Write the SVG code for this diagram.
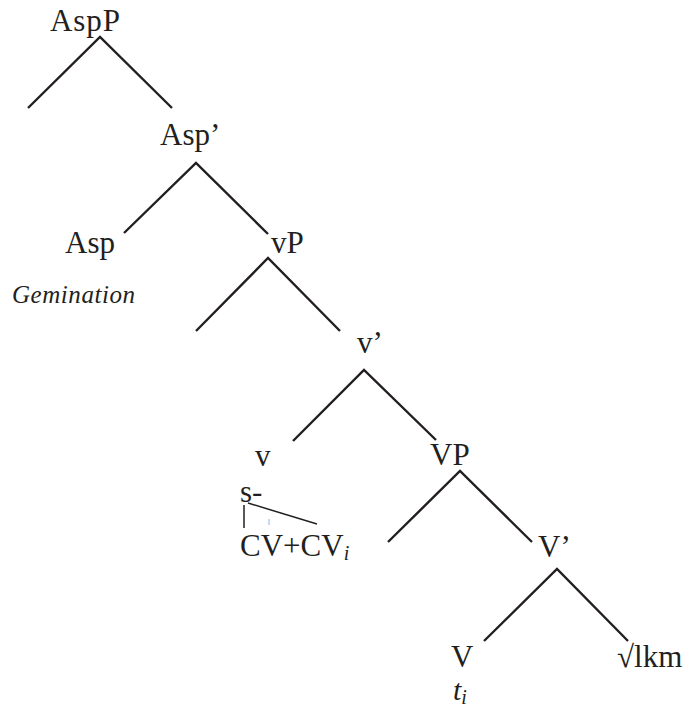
<svg xmlns="http://www.w3.org/2000/svg" width="684" height="708" viewBox="0 0 684 708">
<style>
text{font-family:'Liberation Serif',Tinos,'Times New Roman',serif;fill:#231f20}
.t{font-size:31px}
.it{font-style:italic}
.e{stroke:#231f20;stroke-width:2.4;fill:none}
.e2{stroke:#231f20;stroke-width:1.5;fill:none}
</style>
<rect width="684" height="708" fill="#fff"/>
<g id="connectors">
<polyline class="e" points="28,108 100,37 172,108"/>
<polyline class="e" points="124,233 196,163 268,234"/>
<polyline class="e" points="196,331 268,258 340,331"/>
<polyline class="e" points="293,441 364,370 436,440"/>
<polyline class="e" points="388,542 460,471 532,542"/>
<polyline class="e" points="484,641 557,569 628,641"/>
<line class="e2" x1="244" y1="505" x2="244" y2="528"/>
<line class="e2" x1="248" y1="503" x2="317" y2="524"/>
<line x1="269" y1="519" x2="269" y2="525" stroke="#8fb3e0" stroke-width="1"/>
</g>
<g id="AspP"><text class="t" x="50" y="31" textLength="70">AspP</text></g>
<g id="Asp-bar"><text class="t" x="160" y="145">Asp’</text></g>
<g id="Asp"><text class="t" x="65" y="253">Asp</text></g>
<g id="Gemination"><text class="it" x="12" y="303" font-size="25" textLength="123">Gemination</text></g>
<g id="vP"><text class="t" x="271" y="253">vP</text></g>
<g id="v-bar"><text class="t" x="357" y="353">v’</text></g>
<g id="v"><text class="t" x="255" y="466">v</text></g>
<g id="s"><text class="t" x="240" y="502">s-</text></g>
<g id="CV"><text class="t" x="240" y="556">CV+CV<tspan class="it" font-size="20" dy="4">i</tspan></text></g>
<g id="VP"><text class="t" x="430" y="465">VP</text></g>
<g id="V-bar"><text class="t" x="538" y="557">V’</text></g>
<g id="V"><text class="t" x="451" y="667">V</text></g>
<g id="root"><text class="t" x="617" y="667">√lkm</text></g>
<g id="trace"><text class="it" x="453" y="700" font-size="30">t<tspan font-size="20" dy="4">i</tspan></text></g>
</svg>
